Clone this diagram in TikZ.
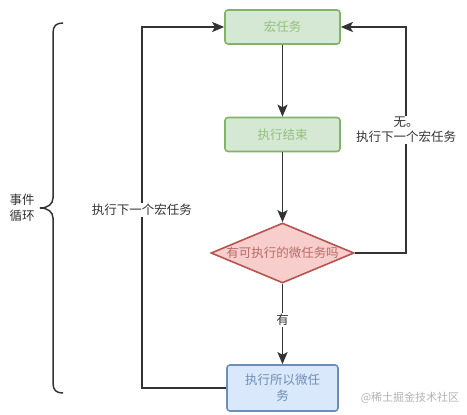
\documentclass[tikz,border=0pt]{standalone}
\usepackage{fontspec}
\setmainfont{Noto Sans CJK SC}
\usetikzlibrary{arrows.meta,shapes.geometric}
\definecolor{gfill}{HTML}{D5E8D4}
\definecolor{gline}{HTML}{82B366}
\definecolor{gtext}{HTML}{94BF7C}
\definecolor{rfill}{HTML}{F8CECC}
\definecolor{rline}{HTML}{B85450}
\definecolor{rtext}{HTML}{B86A66}
\definecolor{bfill}{HTML}{DAE8FC}
\definecolor{bline}{HTML}{6C8EBF}
\definecolor{btext}{HTML}{6F8DB8}
\definecolor{ink}{HTML}{333333}
\tikzset{
  every node/.style={font=\fontsize{12.5}{16}\selectfont},
  gbox/.style={draw=gline,fill=gfill,text=gtext,line width=1.6pt,rounded corners=3pt,minimum width=115pt,minimum height=34pt,inner sep=0pt},
  bbox/.style={draw=bline,fill=bfill,text=btext,line width=1.6pt,rounded corners=3pt,minimum width=111pt,minimum height=46pt,inner sep=0pt,align=center},
  dia/.style={diamond,aspect=2.4,draw=rline,fill=rfill,text=rtext,line width=1.6pt,minimum width=143pt,minimum height=60pt,inner sep=0pt},
  conn/.style={draw=ink,line width=1.8pt,-{Stealth[length=12pt,width=10pt,inset=2.5pt]}},
  lab/.style={fill=white,text=ink,inner sep=1pt,align=center}
}
\begin{document}
\begin{tikzpicture}[x=1pt,y=-1pt]
\useasboundingbox (0,0) rectangle (467,415);
\node[gbox] (m) at (282.5,27) {宏任务};
\node[gbox] (e) at (282.5,134.5) {执行结束};
\node[dia] (d) at (282.5,253) {有可执行的微任务吗};
\node[bbox] (b) at (282.5,388) {执行所以微任\\务};
\coordinate (l1) at (142,388);
\coordinate (l2) at (142,27);
\coordinate (r1) at (406,253);
\coordinate (r2) at (406,27);
\draw[conn] (m) -- (e);
\draw[conn] (e) -- (d);
\draw[conn] (d) -- node[lab,pos=0.45]{有} (b);
\draw[conn] (b.west) -- (l1) -- (l2) -- (m.west);
\draw[conn] (d.east) -- (r1) -- (r2) -- (m.east);
\node[lab] (tl) at (142,210) {执行下一个宏任务};
\node[lab,font=\fontsize{12.5}{15}\selectfont] (tr) at (406,130) {无。\\执行下一个宏任务};
\draw[draw=ink,line width=1.5pt] (63,23) .. controls (56,23) and (53,26) .. (53,33) -- (53,198) .. controls (53,204) and (48,208) .. (40,208) .. controls (48,208) and (53,212) .. (53,218) -- (53,383) .. controls (53,390) and (56,393) .. (63,393);
\node[text=ink,align=center,inner sep=0pt,font=\fontsize{12.5}{16.5}\selectfont] (ev) at (22,208) {事件\\循环};
\node[text=gray!60,inner sep=0pt,font=\fontsize{11}{13}\selectfont] (wm) at (410,398) {@稀土掘金技术社区};
\end{tikzpicture}
\end{document}
